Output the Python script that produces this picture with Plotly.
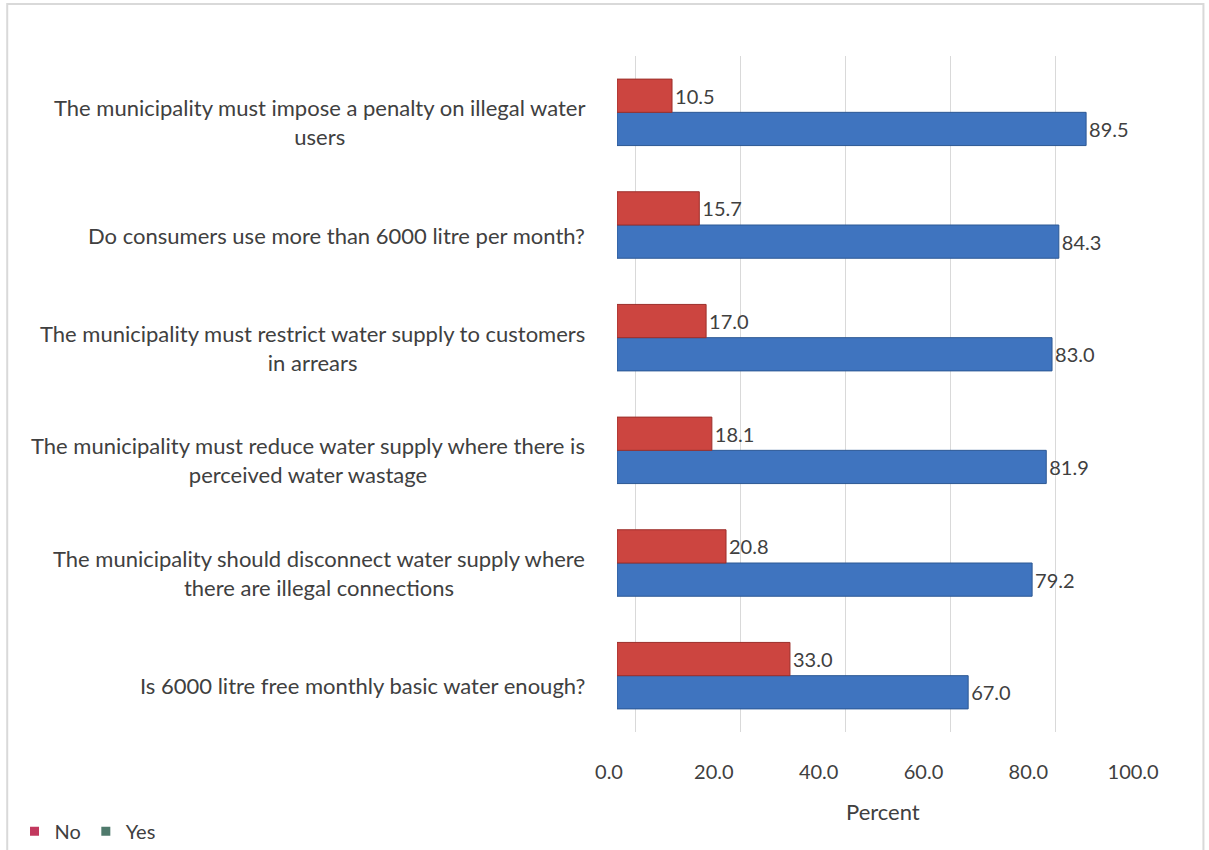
import plotly.graph_objects as go

# Survey statements (bottom to top as drawn on the category axis)
statements = [
    "Is 6000 litre free monthly basic water enough?",
    "The municipality should disconnect water supply where<br>there are illegal connections",
    "The municipality must reduce water supply where there is<br>perceived water wastage",
    "The municipality must restrict water supply to customers<br>in arrears",
    "Do consumers use more than 6000 litre per month?",
    "The municipality must impose a penalty on illegal water<br>users",
]
no_pct = [33.0, 20.8, 18.1, 17.0, 15.7, 10.5]
yes_pct = [67.0, 79.2, 81.9, 83.0, 84.3, 89.5]
tick_vals = [0, 20, 40, 60, 80, 100]
tick_text = ["0.0", "20.0", "40.0", "60.0", "80.0", "100.0"]

FONT = "Lato, 'Open Sans', sans-serif"
TXT = "#404040"

fig = go.Figure()

# Yes first so that it sits below No inside each group
fig.add_trace(go.Bar(
    y=statements, x=yes_pct, orientation="h", name="Yes",
    marker=dict(color="#3f74bf", line=dict(color="#2c5894", width=1)),
    text=[f"{v:.1f}" for v in yes_pct], textposition="outside",
    textfont=dict(family=FONT, size=20, color=TXT),
    cliponaxis=False, showlegend=False,
))
fig.add_trace(go.Bar(
    y=statements, x=no_pct, orientation="h", name="No",
    marker=dict(color="#cc4540", line=dict(color="#9c2f2b", width=1)),
    text=[f"{v:.1f}" for v in no_pct], textposition="outside",
    textfont=dict(family=FONT, size=20, color=TXT),
    cliponaxis=False, showlegend=False,
))

# Legend keys
fig.add_trace(go.Scatter(x=[None], y=[None], mode="markers", name="No",
                         marker=dict(symbol="square", size=9, color="#c2385e")))
fig.add_trace(go.Scatter(x=[None], y=[None], mode="markers", name="Yes",
                         marker=dict(symbol="square", size=9, color="#4f7a6c")))

# Category labels, centred line by line
for s in statements:
    fig.add_annotation(
        x=-0.055, xref="paper", y=s, yref="y", yshift=-10,
        text=s, showarrow=False, xanchor="right", align="center",
        font=dict(family=FONT, size=22, color=TXT),
    )

# Value-axis title
fig.add_annotation(
    x=0.49, xref="paper", y=-0.118, yref="paper", yanchor="middle",
    text="Percent", showarrow=False,
    font=dict(family=FONT, size=22, color=TXT),
)

fig.update_layout(
    width=1209, height=850,
    margin=dict(l=617, r=49, t=56, b=118, autoexpand=False),
    paper_bgcolor="white", plot_bgcolor="white",
    barmode="group", bargap=0.41, bargroupgap=0,
    font=dict(family=FONT, color=TXT),
    xaxis=dict(
        range=[0, 103.6], tickvals=tick_vals, ticktext=tick_text,
        showgrid=False, zeroline=False, showline=False, automargin=False,
        ticks="outside", ticklen=22, tickcolor="rgba(0,0,0,0)",
        ticklabelshift=-8,
        tickfont=dict(family=FONT, size=20, color=TXT),
    ),
    xaxis2=dict(
        range=[-3.6, 100], overlaying="x", tickvals=tick_vals,
        showticklabels=False, showgrid=True, gridcolor="#d9d9d9", gridwidth=1,
        zeroline=False, showline=False, automargin=False,
    ),
    yaxis=dict(showticklabels=False, showgrid=False, zeroline=False,
               showline=False, automargin=False),
    legend=dict(
        orientation="h", xref="container", yref="container",
        x=0.012, y=0.022, xanchor="left", yanchor="middle",
        font=dict(family=FONT, size=20, color=TXT),
        itemwidth=30, tracegroupgap=0,
    ),
)

# Gridline axis needs a trace bound to it
fig.add_trace(go.Scatter(x=[None], y=[None], xaxis="x2", showlegend=False, hoverinfo="skip"))

# Chart frame
fig.add_shape(type="rect", xref="paper", yref="paper",
              x0=-1.123, x1=1.08, y0=-0.2, y1=1.077,
              line=dict(color="#d9d9d9", width=2), layer="below")

fig.write_html("out.html")
